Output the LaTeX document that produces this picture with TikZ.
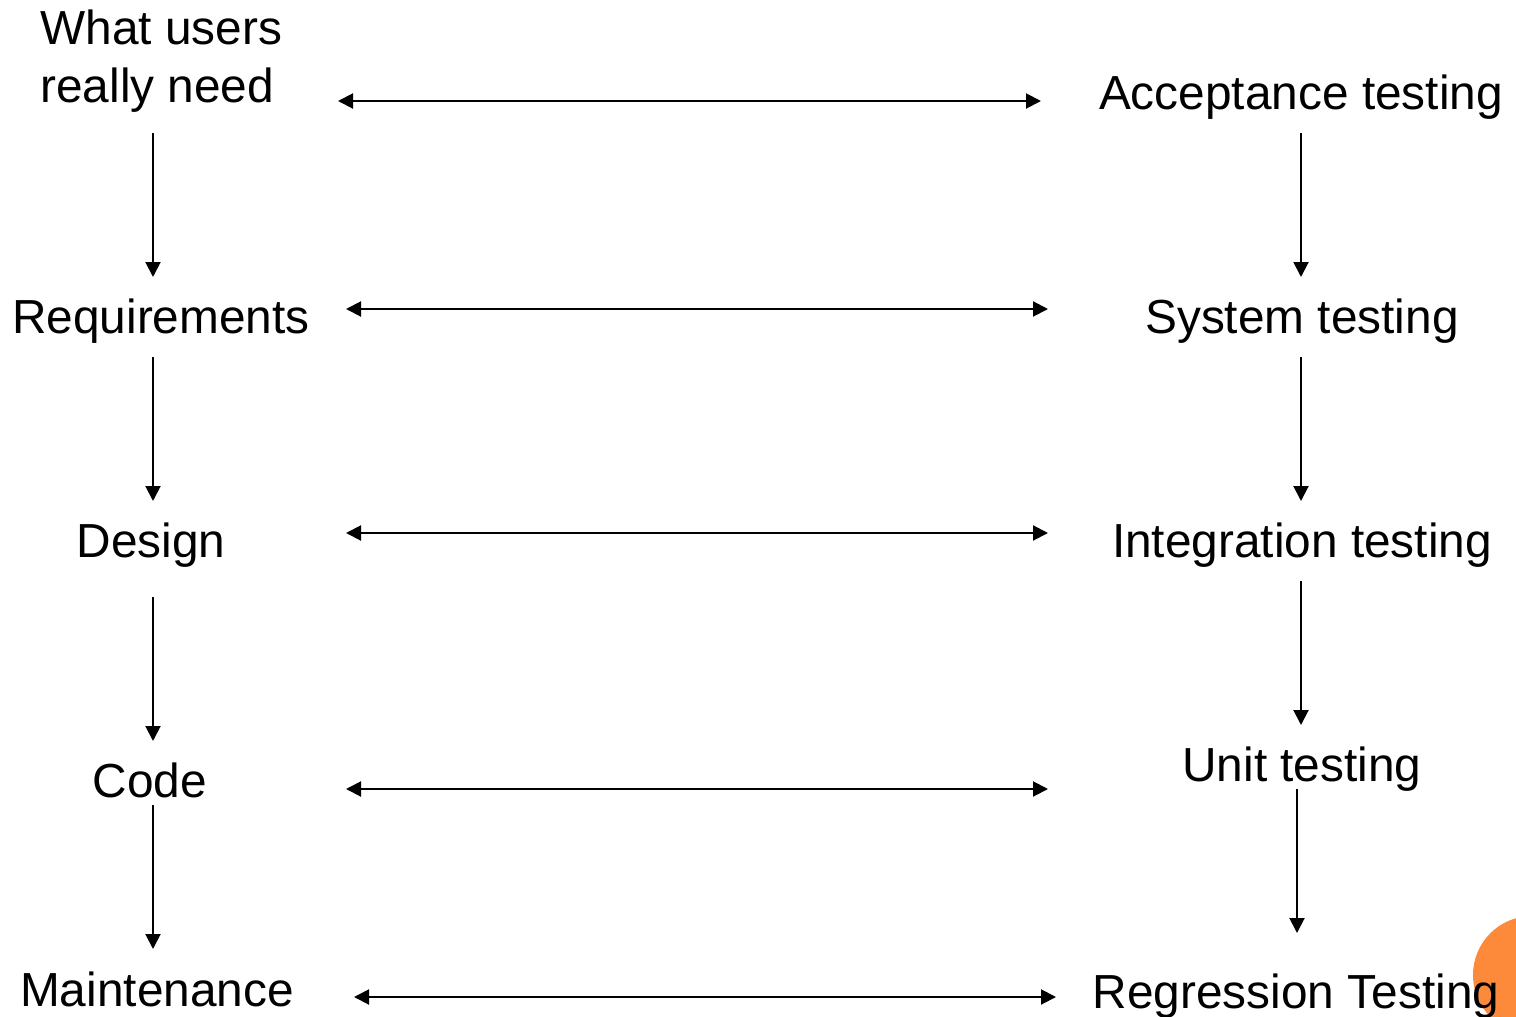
\documentclass[tikz,border=0pt]{standalone}
\usepackage{fontspec}
\setmainfont{Liberation Sans}
\usetikzlibrary{arrows.meta}
\definecolor{accent}{RGB}{253,137,59}
\tikzset{
  lbl/.style={anchor=base, inner sep=0pt, font=\fontsize{23.9}{28.6}\selectfont},
  arr/.style={line width=1pt, -{Triangle[length=7.5pt,width=7.5pt]}},
  biarr/.style={line width=1pt, {Triangle[length=7.5pt,width=7.5pt]}-{Triangle[length=7.5pt,width=7.5pt]}}
}
\begin{document}
\begin{tikzpicture}[x=0.5pt,y=-0.5pt]
  \useasboundingbox (0,0) rectangle (1516,1017);
  \begin{scope}
    \clip (0,0) rectangle (1516,1017);
    \fill[accent] (1532,975) circle (59);
  \end{scope}

  % development stages (left column)
  \node[lbl, anchor=base west, align=left] (need) at (40,102) {What users\\really need};
  \node[lbl] (req) at (161,333) {Requirements};
  \node[lbl] (des) at (151,557) {Design};
  \node[lbl] (code) at (150,797) {Code};
  \node[lbl] (mnt) at (157,1006) {Maintenance};

  % testing stages (right column)
  \node[lbl] (acc) at (1301,109) {Acceptance testing};
  \node[lbl] (sys) at (1302,333) {System testing};
  \node[lbl] (int) at (1302,557) {Integration testing};
  \node[lbl] (unit) at (1302,781) {Unit testing};
  \node[lbl] (reg) at (1296,1008) {Regression Testing};

  % arrow end points
  \coordinate (h1a) at (338,101);  \coordinate (h1b) at (1041,101);
  \coordinate (h2a) at (346,309);  \coordinate (h2b) at (1048,309);
  \coordinate (h3a) at (346,533);  \coordinate (h3b) at (1048,533);
  \coordinate (h4a) at (346,789);  \coordinate (h4b) at (1048,789);
  \coordinate (h5a) at (354,997);  \coordinate (h5b) at (1056,997);

  \coordinate (l1a) at (153,133);  \coordinate (l1b) at (153,277);
  \coordinate (l2a) at (153,357);  \coordinate (l2b) at (153,501);
  \coordinate (l3a) at (153,597);  \coordinate (l3b) at (153,741);
  \coordinate (l4a) at (153,805);  \coordinate (l4b) at (153,949);

  \coordinate (r1a) at (1301,133); \coordinate (r1b) at (1301,277);
  \coordinate (r2a) at (1301,357); \coordinate (r2b) at (1301,501);
  \coordinate (r3a) at (1301,581); \coordinate (r3b) at (1301,725);
  \coordinate (r4a) at (1297,789); \coordinate (r4b) at (1297,933);

  % correspondence between stages
  \draw[biarr] (h1a) -- (h1b);
  \draw[biarr] (h2a) -- (h2b);
  \draw[biarr] (h3a) -- (h3b);
  \draw[biarr] (h4a) -- (h4b);
  \draw[biarr] (h5a) -- (h5b);

  % flow down each column
  \draw[arr] (l1a) -- (l1b);
  \draw[arr] (l2a) -- (l2b);
  \draw[arr] (l3a) -- (l3b);
  \draw[arr] (l4a) -- (l4b);
  \draw[arr] (r1a) -- (r1b);
  \draw[arr] (r2a) -- (r2b);
  \draw[arr] (r3a) -- (r3b);
  \draw[arr] (r4a) -- (r4b);
\end{tikzpicture}
\end{document}
